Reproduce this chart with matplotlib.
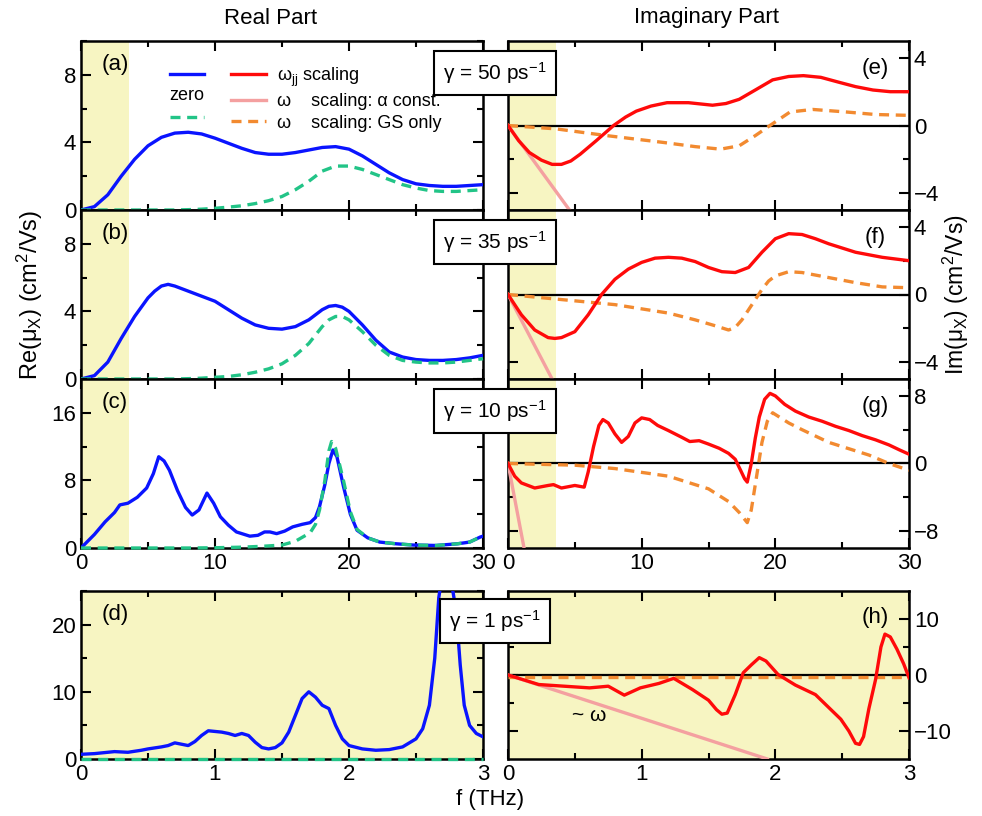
import matplotlib
matplotlib.use("Agg")
import matplotlib.pyplot as plt
from matplotlib.lines import Line2D

plt.rcParams['font.family'] = ['Liberation Sans', 'DejaVu Sans']
plt.rcParams['mathtext.fontset'] = 'custom'
plt.rcParams['mathtext.rm'] = 'Liberation Sans'
plt.rcParams['mathtext.it'] = 'Liberation Sans:italic'

# ---------------- data ----------------
# (a) gamma = 50 ps^-1
a_x = [0, 1, 2, 3, 4, 5, 6, 7, 8, 9, 10, 11, 12, 13, 14, 15, 16, 17, 18, 19, 20, 21, 22, 23, 24, 25, 26, 27, 28, 29, 30]
a_blue = [0, 0.2, 0.9, 2.0, 3.0, 3.8, 4.3, 4.55, 4.6, 4.5, 4.25, 3.95, 3.65, 3.4, 3.3, 3.3, 3.4, 3.55, 3.7, 3.75, 3.6, 3.2, 2.7, 2.2, 1.8, 1.55, 1.45, 1.4, 1.4, 1.45, 1.5]
a_green = [0, 0, 0, 0, 0, 0, 0, 0, 0.02, 0.05, 0.1, 0.17, 0.25, 0.38, 0.55, 0.8, 1.2, 1.7, 2.3, 2.6, 2.6, 2.4, 2.1, 1.8, 1.5, 1.3, 1.15, 1.1, 1.1, 1.15, 1.2]
# (b) gamma = 35 ps^-1
b_x = [0, 1, 2, 3, 4, 5, 5.5, 6, 6.5, 7, 8, 9, 10, 11, 12, 13, 14, 15, 16, 17, 17.5, 18, 18.5, 19, 19.5, 20, 21, 22, 23, 24, 25, 26, 27, 28, 29, 30]
b_blue = [0, 0.2, 1.0, 2.4, 3.7, 4.8, 5.2, 5.5, 5.6, 5.5, 5.2, 4.9, 4.6, 4.1, 3.6, 3.2, 3.0, 2.95, 3.1, 3.5, 3.8, 4.1, 4.3, 4.35, 4.25, 4.0, 3.2, 2.3, 1.6, 1.3, 1.15, 1.1, 1.1, 1.15, 1.25, 1.4]
b_green = [0, 0, 0, 0, 0, 0, 0, 0, 0, 0, 0.02, 0.05, 0.1, 0.15, 0.25, 0.4, 0.6, 0.9, 1.4, 2.1, 2.6, 3.1, 3.5, 3.7, 3.7, 3.5, 2.8, 2.0, 1.4, 1.1, 1.0, 0.95, 0.95, 1.0, 1.1, 1.2]
# (c) gamma = 10 ps^-1
c_x = [0, 0.5, 1, 1.8, 2.5, 2.9, 3.5, 4.2, 4.9, 5.4, 5.8, 6.2, 6.6, 7.2, 7.8, 8.3, 8.8, 9.4, 9.9, 10.4, 11.0, 11.6, 12.6, 13.2, 13.7, 14.1, 14.6, 15.2, 15.8, 16.5, 17.1, 17.5, 17.8, 18.2, 18.5, 18.8, 19.1, 19.6, 20.1, 20.6, 21.4, 22.3, 23.5, 24.8, 26.5, 28.1, 29.0, 29.8, 30]
c_blue = [0, 0.8, 1.6, 3.1, 4.2, 5.1, 5.3, 6.0, 7.1, 8.8, 10.8, 10.3, 9.2, 6.8, 4.8, 3.9, 4.5, 6.5, 5.3, 3.7, 2.7, 1.9, 1.4, 1.5, 1.9, 1.9, 1.7, 2.0, 2.5, 2.8, 3.0, 3.6, 4.9, 7.5, 10.0, 11.6, 10.8, 7.2, 4.0, 2.1, 1.2, 0.7, 0.5, 0.35, 0.3, 0.5, 0.7, 1.3, 1.4]
cg_x = [0, 8, 10, 12, 13.5, 15, 16, 17.1, 17.5, 17.8, 18.2, 18.5, 18.7, 19.0, 19.6, 20.1, 20.6, 21.4, 22.3, 23.5, 24.8, 26.5, 28.1, 29, 29.8, 30]
c_green = [0, 0, 0.03, 0.1, 0.2, 0.35, 0.8, 1.8, 2.8, 4.5, 8.0, 11.5, 12.6, 11.8, 7.9, 4.3, 2.2, 1.2, 0.7, 0.5, 0.35, 0.3, 0.5, 0.7, 1.3, 1.4]
# (d) gamma = 1 ps^-1
d_x = [0, 0.1, 0.2, 0.25, 0.35, 0.45, 0.5, 0.6, 0.65, 0.7, 0.75, 0.8, 0.85, 0.9, 0.95, 1.0, 1.05, 1.1, 1.15, 1.2, 1.25, 1.3, 1.35, 1.4, 1.45, 1.5, 1.55, 1.6, 1.65, 1.7, 1.75, 1.8, 1.85, 1.9, 1.95, 2.0, 2.1, 2.2, 2.3, 2.4, 2.5, 2.55, 2.6, 2.64, 2.67, 2.7, 2.75, 2.8, 2.83, 2.86, 2.9, 2.95, 3.0]
d_blue = [0.7, 0.8, 1.0, 1.1, 1.0, 1.3, 1.5, 1.8, 2.0, 2.4, 2.2, 2.0, 2.6, 3.5, 4.2, 4.1, 4.0, 3.8, 3.5, 3.8, 3.5, 2.5, 1.7, 1.5, 1.7, 2.4, 4.0, 6.5, 9.0, 10.0, 9.2, 8.0, 7.5, 5.0, 3.0, 2.0, 1.5, 1.3, 1.4, 1.8, 3.0, 4.5, 8.0, 15.0, 24.0, 28.0, 28.0, 22.0, 14.0, 8.0, 5.0, 3.8, 3.3]
d_green = [0.0] * len(d_x)

# (e) gamma = 50 ps^-1, imaginary part
e_x = [0, 0.8, 1.6, 2.5, 3.3, 4.0, 4.7, 5.4, 6.6, 7.9, 8.8, 9.6, 10.7, 11.9, 13.5, 15.3, 16.3, 17.3, 18.5, 19.8, 21.0, 22.1, 23.4, 24.8, 26.0, 27.3, 28.6, 30]
e_red = [0, -0.9, -1.6, -2.05, -2.3, -2.3, -2.1, -1.7, -0.9, 0, 0.5, 0.85, 1.15, 1.35, 1.35, 1.2, 1.3, 1.55, 2.1, 2.7, 2.9, 2.95, 2.85, 2.55, 2.3, 2.1, 2.0, 2.0]
eo_x = [0, 3.6, 7.4, 11.6, 14.0, 15.9, 17.3, 18.5, 19.6, 21.1, 22.8, 25.3, 27.5, 30]
e_orange = [0, -0.2, -0.6, -1.0, -1.25, -1.4, -1.2, -0.6, 0, 0.8, 0.95, 0.8, 0.65, 0.6]
e_pink_x = [0, 4.6]
e_pink = [0, -5]
# (f) gamma = 35 ps^-1
f_x = [0, 1, 2, 3, 3.5, 4, 5, 6, 7, 8, 9, 10, 11, 12, 13, 14, 15, 16, 17, 18, 19, 20, 21, 22, 23, 24, 25, 26, 27, 28, 29, 30]
f_red = [0, -1.2, -2.1, -2.55, -2.6, -2.55, -2.2, -1.2, 0.0, 0.9, 1.5, 1.9, 2.15, 2.2, 2.15, 1.95, 1.6, 1.35, 1.3, 1.6, 2.5, 3.3, 3.6, 3.55, 3.3, 3.0, 2.75, 2.5, 2.35, 2.2, 2.1, 2.0]
fo_x = [0, 4, 8, 12, 14, 15.5, 16.5, 17, 17.5, 18, 18.5, 19, 19.5, 20, 21, 22, 24, 26, 28, 30]
f_orange = [0, -0.3, -0.6, -1.1, -1.5, -1.85, -2.1, -1.95, -1.5, -0.9, -0.3, 0.3, 0.8, 1.1, 1.35, 1.3, 1.0, 0.7, 0.45, 0.4]
f_pink_x = [0, 3.3]
f_pink = [0, -5]
# (g) gamma = 10 ps^-1
g_x = [0, 0.5, 1, 2, 3, 3.4, 4, 5, 5.7, 6.0, 6.4, 6.8, 7.1, 7.5, 8.0, 8.5, 9.0, 9.5, 10.0, 10.6, 11.2, 12, 12.5, 13, 13.6, 14.3, 15, 15.8, 16.5, 17.0, 17.4, 17.7, 17.9, 18.2, 18.5, 18.8, 19.2, 19.6, 20.0, 20.7, 21.5, 22.5, 23.5, 24.5, 25.5, 26.5, 27.5, 28.5, 29.3, 30]
g_red = [0, -1.5, -2.3, -2.9, -2.6, -2.5, -2.9, -2.6, -2.8, -1.0, 2.0, 4.5, 5.2, 4.8, 3.5, 2.5, 3.2, 4.8, 5.4, 5.2, 4.5, 3.9, 3.5, 3.1, 2.6, 2.7, 2.3, 1.8, 1.2, 0.5, -0.8, -1.8, -2.2, 0.0, 3.0, 5.5, 7.6, 8.3, 8.0, 7.0, 6.2, 5.5, 5.0, 4.4, 3.9, 3.3, 2.8, 2.2, 1.6, 1.1]
go_x = [0, 5, 8, 12, 15, 16.5, 17.3, 17.6, 17.9, 18.2, 18.6, 19.0, 19.4, 19.8, 20.3, 21, 22, 24, 26, 27, 28.5, 30]
g_orange = [0, -0.2, -0.6, -1.5, -3.0, -4.5, -5.8, -6.4, -7.0, -5.5, -1.5, 2.5, 5.0, 6.0, 5.5, 4.8, 4.0, 2.5, 1.5, 1.0, 0.0, -0.8]
g_pink_x = [0, 1.2]
g_pink = [0, -10]
# (h) gamma = 1 ps^-1
h_x = [0, 0.23, 0.42, 0.61, 0.75, 0.87, 0.99, 1.13, 1.24, 1.38, 1.5, 1.56, 1.6, 1.64, 1.7, 1.76, 1.82, 1.88, 1.93, 2.02, 2.15, 2.30, 2.49, 2.55, 2.6, 2.63, 2.66, 2.7, 2.75, 2.79, 2.82, 2.86, 2.91, 2.96, 3.0]
h_red = [0, -1.7, -2.0, -2.3, -2.0, -3.6, -2.3, -1.5, -0.6, -2.6, -4.5, -6.2, -7.0, -6.8, -3.5, 0.4, 1.8, 3.1, 2.5, 0.1, -1.8, -3.5, -7.9, -10.0, -12.2, -12.4, -11.0, -6.0, -0.8, 5.0, 7.3, 6.8, 4.6, 2.0, -0.5]
ho_x = [0, 3.0]
h_orange = [-0.3, -0.3]
h_pink_x = [0, 1.94]
h_pink = [0, -15]

gammas = ["50", "35", "10", "1"]

# ---------------- style ----------------
BLUE = "#0a14ff"
RED = "#ff0a0a"
PINK = "#f4a0a0"
ORANGE = "#f28a30"
GREEN = "#22c487"
YELLOW = "#f7f5c2"
LW = 2.4

W, H = 982, 816
fig = plt.figure(figsize=(W / 100, H / 100), dpi=100)

def fx(px):
    return px / W

def fy(py):
    return 1 - py / H

lx0, lx1 = 81, 483
rx0, rx1 = 508, 909
rows = [(41, 210), (210, 379), (379, 548), (591, 759)]

def make_ax(x0, x1, y0, y1):
    return fig.add_axes([fx(x0), fy(y1), fx(x1) - fx(x0), (y1 - y0) / H])

def style(ax, xmax, xmajor, xminor, ymajor, yminor, ylim, xlabels, right=False):
    ax.set_xlim(0, xmax)
    ax.set_ylim(*ylim)
    ax.set_xticks(xmajor)
    ax.set_xticks(xminor, minor=True)
    ax.set_yticks(ymajor)
    ax.set_yticks(yminor, minor=True)
    ax.tick_params(which='both', direction='in', top=True, bottom=True, left=True, right=True, width=1.5)
    ax.tick_params(which='major', length=7, labelsize=16)
    ax.tick_params(which='minor', length=4)
    if right:
        ax.tick_params(labelleft=False, labelright=True)
    if not xlabels:
        ax.tick_params(labelbottom=False)
    for s in ax.spines.values():
        s.set_linewidth(1.8)

left_data = [(a_x, a_blue, a_x, a_green), (b_x, b_blue, b_x, b_green), (c_x, c_blue, cg_x, c_green), (d_x, d_blue, d_x, d_green)]
right_data = [(e_x, e_red, eo_x, e_orange, e_pink_x, e_pink),
              (f_x, f_red, fo_x, f_orange, f_pink_x, f_pink),
              (g_x, g_red, go_x, g_orange, g_pink_x, g_pink),
              (h_x, h_red, ho_x, h_orange, h_pink_x, h_pink)]
left_ylims = [(0, 10), (0, 10), (0, 20), (0, 25)]
left_major = [[0, 4, 8], [0, 4, 8], [0, 8, 16], [0, 10, 20]]
left_minor = [[2, 6, 10], [2, 6, 10], [4, 12, 20], [5, 15, 25]]
right_ylims = [(-5, 5), (-5, 5), (-10, 10), (-15, 15)]
right_major = [[-4, 0, 4], [-4, 0, 4], [-8, 0, 8], [-10, 0, 10]]
right_minor = [[-2, 2], [-2, 2], [-4, 4], [-5, 5]]
labels_l = ["(a)", "(b)", "(c)", "(d)"]
labels_r = ["(e)", "(f)", "(g)", "(h)"]

axes_l, axes_r = [], []
for i, (y0, y1) in enumerate(rows):
    bottom_row = i == 3
    xmax = 3 if bottom_row else 30
    xmaj = [0, 1, 2, 3] if bottom_row else [0, 10, 20, 30]
    xmin = [0.5, 1.5, 2.5] if bottom_row else [5, 15, 25]
    shade = 3 if bottom_row else 3.6
    xlab = i >= 2

    axl = make_ax(lx0, lx1, y0, y1)
    style(axl, xmax, xmaj, xmin, left_major[i], left_minor[i], left_ylims[i], xlab)
    axl.axvspan(0, shade, color=YELLOW, zorder=0, lw=0)
    xb, yb, xg, yg = left_data[i]
    axl.plot(xb, yb, color=BLUE, lw=LW, zorder=3)
    axl.plot(xg, yg, color=GREEN, lw=LW, ls=(0, (3, 2)), zorder=4, clip_on=False)
    axl.text(0.085, 0.86, labels_l[i], transform=axl.transAxes, fontsize=16, ha='center', va='center')
    axes_l.append(axl)

    axr = make_ax(rx0, rx1, y0, y1)
    style(axr, xmax, xmaj, xmin, right_major[i], right_minor[i], right_ylims[i], xlab, right=True)
    axr.axvspan(0, shade, color=YELLOW, zorder=0, lw=0)
    axr.axhline(0, color='black', lw=1.6, zorder=2)
    xr, yr, xo, yo, xp, yp = right_data[i]
    axr.plot(xp, yp, color=PINK, lw=LW, zorder=3)
    axr.plot(xo, yo, color=ORANGE, lw=LW, ls=(0, (3, 2)), zorder=4)
    axr.plot(xr, yr, color=RED, lw=LW, zorder=5)
    axr.text(0.915, 0.84, labels_r[i], transform=axr.transAxes, fontsize=16, ha='center', va='center')
    axes_r.append(axr)

    # gamma box
    cy = (y0 + 32) if i < 3 else (y0 + 30)
    fig.text(fx(495), fy(cy), "γ = " + gammas[i] + " ps$^{-1}$", fontsize=15, ha='center', va='center',
             bbox=dict(boxstyle='square,pad=0.45', fc='white', ec='black', lw=1.5), zorder=10)

axes_r[3].text(0.48, -7.3, "~ ω", fontsize=15, ha='left', va='center')

# legend in (a)
ax = axes_l[0]
blank = Line2D([], [], color='none')
handles = [Line2D([], [], color=BLUE, lw=LW), blank, Line2D([], [], color=GREEN, lw=LW, ls=(0, (3, 2))),
           Line2D([], [], color=RED, lw=LW), Line2D([], [], color=PINK, lw=LW), Line2D([], [], color=ORANGE, lw=LW, ls=(0, (3, 2)))]
lbls = ["", "", "", "ω$_{\\mathrm{jj}}$ scaling", "ω    scaling: α const.", "ω    scaling: GS only"]
leg = ax.legend(handles, lbls, ncol=2, loc='upper left', bbox_to_anchor=(0.19, 0.93), frameon=False,
                fontsize=13, handlelength=1.9, handletextpad=0.6, columnspacing=0.9, labelspacing=0.25,
                borderpad=0.2)
fig.text(fx(187), fy(96), "zero", fontsize=13, ha='center', va='center')

# titles and axis labels
fig.text(fx(271), fy(18), "Real Part", fontsize=16, ha='center', va='center')
fig.text(fx(707), fy(18), "Imaginary Part", fontsize=16, ha='center', va='center')
fig.text(fx(30), fy(295), "Re(μ$_\\mathrm{X}$) (cm$^2$/Vs)", fontsize=17, rotation=90, ha='center', va='center')
fig.text(fx(956), fy(295), "Im(μ$_\\mathrm{X}$) (cm$^2$/Vs)", fontsize=16.5, rotation=90, ha='center', va='center')
fig.text(fx(490), fy(800), "f (THz)", fontsize=16, ha='center', va='center')

fig.savefig("out.png", dpi=100)
